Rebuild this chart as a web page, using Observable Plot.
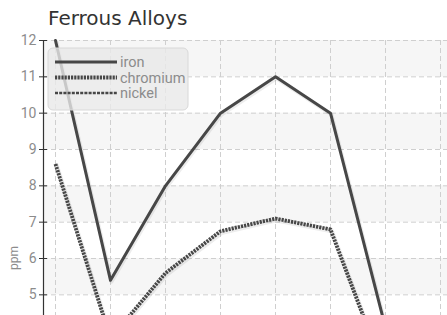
<!DOCTYPE html>
<html><head>
<meta charset="utf-8">
<script src="https://cdn.jsdelivr.net/npm/d3@7"></script>
<script src="https://cdn.jsdelivr.net/npm/@observablehq/plot@0.6"></script>
<style>
body{margin:0;background:#fff;overflow:hidden;}
#title{font-family:"DejaVu Sans",sans-serif;font-size:20px;color:#333;line-height:30px;padding-top:3px;padding-left:48px;height:30px;white-space:nowrap;}
</style></head><body>
<div id="title">Ferrous Alloys</div>
<div id="chart"></div>
<script>
const xValues = [1, 2, 3, 4, 5, 6, 7];
const iron = [12, 5.4, 8, 10, 11, 10, 4.1];
const chromium = [8.6, 3.8, 5.6, 6.75, 7.1, 6.8, 2.8];
const nickel = [3.9, 1.8, 3.0, 3.6, 3.9, 3.5, 1.6];
const seriesNames = ["iron", "chromium", "nickel"];
const yTicks = [0, 1, 2, 3, 4, 5, 6, 7, 8, 9, 10, 11, 12];
const xGrid = [1, 2, 3, 4, 5, 6, 7, 8];
const yBands = [[11, 12], [9, 10], [7, 8], [5, 6], [3, 4], [1, 2]];

const seriesValues = {iron, chromium, nickel};
const rows = s => xValues.map((x, i) => ({x, y: seriesValues[s][i], s}));
const styles = {
  iron: {strokeWidth: 3, dash: null},
  chromium: {strokeWidth: 3.8, dash: "2.2,1"},
  nickel: {strokeWidth: 2.5, dash: "3,1.2"}
};
const lineColor = "#474747";
const pxPerX = 55;
const x0 = 1 - 12 / pxPerX;
const xDomain = [x0, x0 + 404 / pxPerX];

const marks = [
  Plot.rect(yBands, {y1: d => d[0], y2: d => d[1], fill: "#f6f6f6"}),
  Plot.ruleY(yTicks, {stroke: "#cfcfcf", strokeDasharray: "5,3"}),
  Plot.ruleX(xGrid, {stroke: "#cfcfcf", strokeDasharray: "5,3"})
];
for (const s of seriesNames) {
  marks.push(Plot.line(rows(s), {x: "x", y: "y", stroke: "#000", strokeOpacity: 0.07,
    strokeWidth: styles[s].strokeWidth + 1, dx: 1, dy: 1.5}));
  marks.push(Plot.line(rows(s), {x: "x", y: "y", stroke: lineColor,
    strokeWidth: styles[s].strokeWidth, strokeDasharray: styles[s].dash,
    strokeLinecap: styles[s].dash ? "butt" : "round", strokeLinejoin: "round"}));
}
marks.push(
  Plot.ruleX([x0], {stroke: "#333", strokeWidth: 1.2}),
  Plot.ruleY(yTicks, {x1: x0 - 4 / pxPerX, x2: x0 + 4 / pxPerX, stroke: "#333"}),
  Plot.text(yTicks, {x: x0, y: d => d, text: d => String(d), dx: -7, textAnchor: "end",
    fill: "#8c8c8c", fontSize: 14})
);

const chart = Plot.plot({
  width: 447,
  height: 473,
  marginTop: 7,
  marginBottom: 30,
  marginLeft: 43,
  marginRight: 0,
  style: {fontFamily: "Roboto, sans-serif", background: "#fff", overflow: "visible"},
  x: {domain: xDomain, axis: null},
  y: {domain: [0, 12], axis: null},
  marks
});
document.getElementById("chart").appendChild(chart);

const svg = d3.select(chart);
svg.append("text").attr("transform", "translate(15,225) rotate(-90)")
  .attr("text-anchor", "middle").attr("dominant-baseline", "middle")
  .attr("fill", "#8c8c8c").attr("font-size", 12).text("ppm");

const lg = svg.append("g");
lg.append("rect").attr("x", 48).attr("y", 15).attr("width", 140).attr("height", 62)
  .attr("rx", 5).attr("fill", "#e9e9e9").attr("fill-opacity", 0.8)
  .attr("stroke", "#d8d8d8");
seriesNames.forEach((s, i) => {
  const y = 29 + i * 15.5;
  lg.append("line").attr("x1", 55).attr("x2", 117).attr("y1", y).attr("y2", y)
    .attr("stroke", lineColor).attr("stroke-width", styles[s].strokeWidth)
    .attr("stroke-dasharray", styles[s].dash);
  lg.append("text").attr("x", 120).attr("y", y).attr("dy", "0.35em")
    .attr("text-anchor", "start")
    .attr("fill", "#8c8c8c").attr("font-size", 14.5).text(s);
});
</script>
</body></html>
